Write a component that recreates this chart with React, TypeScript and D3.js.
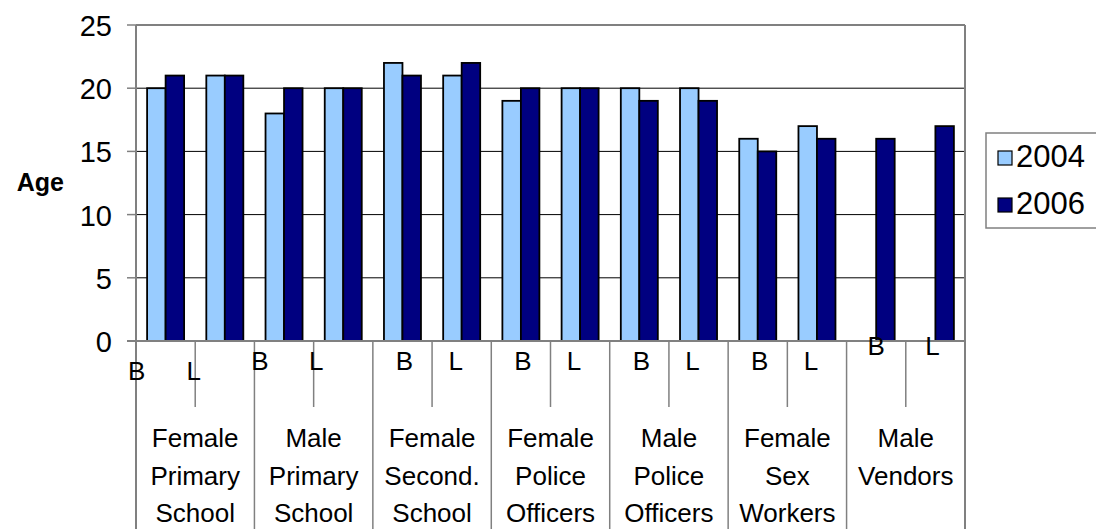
import React from 'react';
import * as d3 from 'd3';

// groups along the x axis, each split into B / L
const groupLabels = [
  ['Female', 'Primary', 'School'],
  ['Male', 'Primary', 'School'],
  ['Female', 'Second.', 'School'],
  ['Female', 'Police', 'Officers'],
  ['Male', 'Police', 'Officers'],
  ['Female', 'Sex', 'Workers'],
  ['Male', 'Vendors'],
];
const subLabels = ['B', 'L'];
const seriesNames = ['2004', '2006'];
const values2004 = [20, 21, 18, 20, 22, 21, 19, 20, 20, 20, 16, 17, null, null];
const values2006 = [21, 21, 20, 20, 21, 22, 20, 20, 19, 19, 15, 16, 16, 17];
const yTicks = [0, 5, 10, 15, 20, 25];

const colors = ['#99CCFF', '#000080'];
const font = '"Liberation Sans", Arial, sans-serif';

// excel put some of the B/L labels in odd spots, nudge them [dx, dy]
const subNudge: Record<number, [number, number]> = {
  0: [-29, 10], 1: [-31, 10], 2: [-24, 0], 3: [-27, 0], 12: [0, -15], 13: [-3, -15],
};

export default function App() {
  const W = 1096, H = 529;
  const left = 136, right = 965, top = 25, bottom = 341;

  const cats = groupLabels.flatMap((g, i) => subLabels.map(s => `${i}-${s}`));

  const x = d3.scaleBand<string>()
    .domain(cats)
    .range([left, right])
    .paddingInner(0.375)
    .paddingOuter(0.1875);
  const xs = d3.scaleBand<string>().domain(seriesNames).range([0, x.bandwidth()]);
  const y = d3.scaleLinear().domain([0, 25]).range([bottom, top]);

  const step = x.step();
  const edge = (c: string) => (x(c) as number) - (step - x.bandwidth()) / 2;

  const series = [values2004, values2006];

  return (
    <svg width={W} height={H} style={{ position: 'absolute', left: 0, top: 0, background: '#fff' }}
      fontFamily={font}>
      {/* gridlines */}
      {yTicks.filter(t => t > 0 && t < 25).map(t => (
        <line key={'g' + t} x1={left} x2={right} y1={y(t)} y2={y(t)} stroke="#000" strokeWidth={1} />
      ))}
      {/* plot border */}
      <line x1={left} x2={right} y1={top} y2={top} stroke="#808080" strokeWidth={2} />
      <line x1={right} x2={right} y1={top} y2={H} stroke="#808080" strokeWidth={2} />

      {/* bars */}
      {series.map((vals, si) => vals.map((v, ci) => v == null ? null : (
        <rect key={`b${si}-${ci}`}
          x={(x(cats[ci]) as number) + (xs(seriesNames[si]) as number)}
          y={y(v)}
          width={xs.bandwidth()}
          height={y(0) - y(v)}
          fill={colors[si]} stroke="#000" strokeWidth={1.8} />
      )))}

      {/* y axis */}
      <line x1={left} x2={left} y1={top} y2={H} stroke="#808080" strokeWidth={2} />
      <line x1={left - 9} x2={right} y1={bottom} y2={bottom} stroke="#808080" strokeWidth={2} />
      {yTicks.map(t => (
        <g key={'t' + t}>
          <line x1={left - 9} x2={left} y1={y(t)} y2={y(t)} stroke="#808080" strokeWidth={1.5} />
          <text x={112} y={y(t) + 11} textAnchor="end" fontSize={29} fill="#000">{t}</text>
        </g>
      ))}
      <text x={64} y={191} textAnchor="end" fontSize={25} fontWeight="bold" fill="#000">Age</text>

      {/* category axis: separators */}
      {cats.map((c, i) => (
        <line key={'s' + c} x1={edge(c)} x2={edge(c)} y1={bottom}
          y2={i % 2 === 0 ? H : 407} stroke="#808080" strokeWidth={1.5} />
      ))}

      {/* B / L labels */}
      {cats.map((c, i) => {
        const [dx, dy] = subNudge[i] || [i % 2 === 0 ? 2 : -6, 0];
        return (
          <text key={'l' + c} x={(x(c) as number) + x.bandwidth() / 2 + dx} y={370 + dy}
            textAnchor="middle" fontSize={26} fill="#000">{subLabels[i % 2]}</text>
        );
      })}

      {/* group labels */}
      {groupLabels.map((lines, gi) => {
        const cx = edge(cats[gi * 2]) + step;
        return lines.map((ln, li) => (
          <text key={`gl${gi}-${li}`} x={cx} y={447 + li * 37.5} textAnchor="middle"
            fontSize={26} fill="#000">{ln}</text>
        ));
      })}

      {/* legend */}
      <rect x={986} y={133} width={140} height={95} fill="#fff" stroke="#808080" strokeWidth={1.5} />
      {seriesNames.map((s, i) => (
        <g key={'lg' + s}>
          <rect x={998} y={151 + i * 47} width={14} height={14} fill={colors[i]} stroke="#000" strokeWidth={1.2} />
          <text x={1016} y={167 + i * 47} fontSize={31} fill="#000">{s}</text>
        </g>
      ))}
    </svg>
  );
}
